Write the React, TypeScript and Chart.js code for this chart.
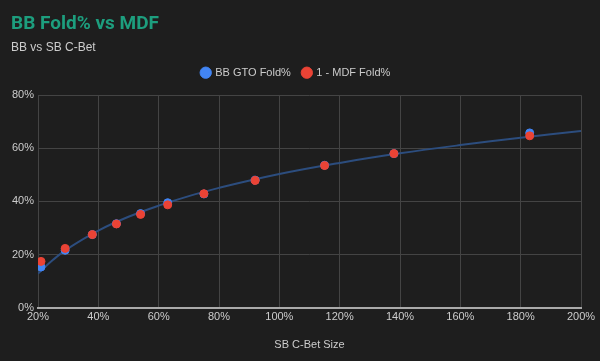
import React, { useEffect, useRef } from "react";
import { Chart, registerables } from "chart.js";
Chart.register(...registerables);

const betSizes = [21, 29, 38, 46, 54, 63, 75, 92, 115, 138, 183];
const bbGtoFold = [15.3, 21.6, 27.5, 31.6, 35.4, 39.5, 42.8, 48.0, 53.6, 58.0, 65.8];
const mdfFold = [17.4, 22.3, 27.5, 31.5, 35.1, 38.7, 42.9, 47.9, 53.5, 58.0, 64.7];
const trendX = [20, 25, 30, 40, 50, 60, 70, 80, 100, 120, 140, 160, 180, 200];
const trendY = [12.8, 18.0, 22.3, 29.0, 34.2, 38.4, 42.0, 45.1, 50.3, 54.5, 58.1, 61.2, 64.0, 66.5];

const FONT = "'Liberation Sans', Arial, sans-serif";

const legendMargin = {
  id: "legendMargin",
  beforeInit(chart: any) {
    const legend = chart.legend;
    const origFit = legend.fit;
    legend.fit = function () {
      origFit.call(this);
      this.height += 7;
    };
  },
};

export default function App() {
  const ref = useRef<HTMLCanvasElement>(null);
  useEffect(() => {
    document.body.style.margin = "0";
    document.body.style.background = "#1e1e1e";
    const ctx = ref.current!;
    const chart = new Chart(ctx, {
      type: "scatter",
      plugins: [legendMargin],
      data: {
        datasets: [
          {
            label: "trend",
            type: "line",
            data: trendX.map((x, i) => ({ x, y: trendY[i] })),
            borderColor: "#2c4d7e",
            borderWidth: 2,
            pointRadius: 0,
            tension: 0.4,
            fill: false,
            order: 3,
          } as any,
          {
            label: "BB GTO Fold%",
            data: betSizes.map((x, i) => ({ x, y: bbGtoFold[i] })),
            backgroundColor: "#4285f4",
            borderColor: "#4285f4",
            pointRadius: 4,
            order: 2,
          },
          {
            label: "1 - MDF Fold%",
            data: betSizes.map((x, i) => ({ x, y: mdfFold[i] })),
            backgroundColor: "#ea4335",
            borderColor: "#ea4335",
            pointRadius: 4,
            order: 1,
          },
        ],
      },
      options: {
        animation: false,
        responsive: false,
        maintainAspectRatio: false,
        layout: { padding: { left: 11, right: 19, top: 8, bottom: 9 } },
        plugins: {
          title: {
            display: true,
            text: "BB Fold% vs MDF",
            align: "start",
            color: "#1d9e7e",
            font: { family: "Roboto, 'Liberation Sans', sans-serif", size: 19, weight: "bold" },
            padding: { top: 5, bottom: 5 },
          },
          subtitle: {
            display: true,
            text: "BB vs SB C-Bet",
            align: "start",
            color: "#cccccc",
            font: { family: FONT, size: 12 },
            padding: { top: 0, bottom: 0 },
          },
          legend: {
            display: true,
            labels: {
              filter: (item: any) => item.text !== "trend",
              sort: (a: any, b: any) => a.datasetIndex - b.datasetIndex,
              usePointStyle: true,
              pointStyle: "circle",
              boxWidth: 8,
              boxHeight: 8,
              color: "#cccccc",
              font: { family: FONT, size: 11 },
              padding: 12,
            },
          },
          tooltip: { enabled: false },
        },
        scales: {
          x: {
            type: "linear",
            min: 20,
            max: 200,
            ticks: {
              stepSize: 20,
              color: "#cccccc",
              font: { family: FONT, size: 11 },
              callback: (v: any) => v + "%",
              maxRotation: 0,
            },
            grid: { color: "#444444", drawTicks: false },
            border: { color: "#aaaaaa", width: 2 },
            title: {
              display: true,
              text: "SB C-Bet Size",
              color: "#cccccc",
              font: { family: FONT, size: 11 },
              padding: { top: 12, bottom: 0 },
            },
          },
          y: {
            min: 0,
            max: 80,
            afterFit: (scale: any) => {
              scale.width = 27;
            },
            ticks: {
              stepSize: 20,
              color: "#cccccc",
              font: { family: FONT, size: 11 },
              callback: (v: any) => v + "%",
              padding: 4,
            },
            grid: { color: "#444444", drawTicks: false },
            border: { display: false },
          },
        },
      },
    });
    return () => chart.destroy();
  }, []);
  return (
    <div style={{ width: 600, height: 361, background: "#1e1e1e" }}>
      <canvas ref={ref} width={600} height={361} />
    </div>
  );
}
